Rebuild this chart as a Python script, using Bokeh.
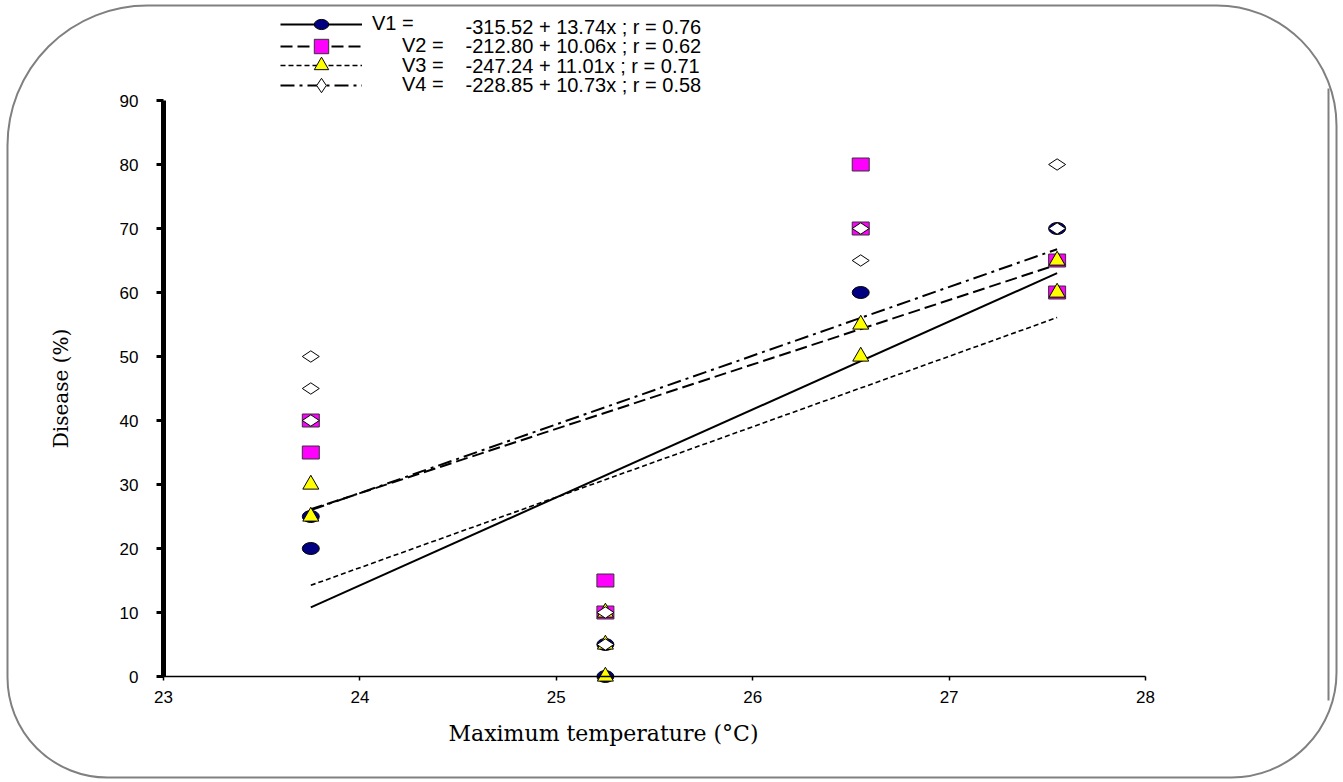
import numpy as np
from bokeh.plotting import figure
from bokeh.models import (Range1d, Legend, LegendItem, Label, BoxAnnotation,
                          FixedTicker)
from bokeh.embed import file_html
from bokeh.resources import INLINE

# ---------------- data ----------------
temps = [23.75, 25.25, 26.55, 27.55]

v1_x = [23.75, 23.75, 25.25, 25.25, 26.55, 27.55]
v1_y = [20, 25, 0, 5, 60, 70]
v2_x = [23.75, 23.75, 25.25, 25.25, 26.55, 26.55, 27.55, 27.55]
v2_y = [35, 40, 10, 15, 70, 80, 60, 65]
v3_x = [23.75, 23.75, 25.25, 25.25, 25.25, 26.55, 26.55, 27.55, 27.55]
v3_y = [25, 30, 0, 5, 10, 50, 55, 60, 65]
v4_x = [23.75, 23.75, 23.75, 25.25, 25.25, 26.55, 26.55, 27.55, 27.55]
v4_y = [40, 45, 50, 5, 10, 65, 70, 70, 80]

series = ["V1", "V2", "V3", "V4"]
intercepts = [-315.52, -212.80, -247.24, -228.85]
slopes = [13.74, 10.06, 11.01, 10.73]
r_values = [0.76, 0.62, 0.71, 0.58]

x_ticks = [23, 24, 25, 26, 27, 28]
y_ticks = [0, 10, 20, 30, 40, 50, 60, 70, 80, 90]

x_title = "Maximum temperature (°C)"
y_title = "Disease (%)"

# ---------------- layout (pixels) ----------------
W, H = 1343, 782
AX_LEFT, AX_RIGHT, AX_TOP, AX_BOTTOM = 163, 1145, 100, 676   # where 23/28 and 90/0 sit
xmin, xmax = x_ticks[0], x_ticks[-1]
ymin, ymax = y_ticks[0], y_ticks[-1]
kx = (AX_RIGHT - AX_LEFT) / (xmax - xmin)
ky = (AX_BOTTOM - AX_TOP) / (ymax - ymin)
x_range = Range1d(xmin - AX_LEFT / kx, xmax + (W - AX_RIGHT) / kx)
y_range = Range1d(ymin - (H - AX_BOTTOM) / ky, ymax + AX_TOP / ky)

SANS = "Liberation Sans"
SERIF = "DejaVu Serif"

p = figure(width=W, height=H, x_range=x_range, y_range=y_range, title=None,
           output_backend="svg", toolbar_location=None,
           min_border=0, background_fill_color="white",
           border_fill_color="white", outline_line_color=None)
p.grid.visible = False

# axes drawn at fixed data locations, limited to the data bounds
p.xaxis.fixed_location = ymin
p.yaxis.fixed_location = xmin
p.xaxis.bounds = (xmin, xmax)
p.yaxis.bounds = (ymin, ymax)
p.xaxis.ticker = FixedTicker(ticks=x_ticks)
p.yaxis.ticker = FixedTicker(ticks=y_ticks)
for ax in (p.xaxis[0], p.yaxis[0]):
    ax.minor_tick_line_color = None
    ax.major_tick_in = 0
    ax.major_label_text_font = SANS
    ax.major_label_text_font_size = "17px"
    ax.major_label_text_color = "black"
    ax.axis_label_text_font = SERIF
    ax.axis_label_text_font_style = "normal"
    ax.axis_label_text_color = "black"
    ax.axis_line_color = "black"
    ax.major_tick_line_color = "black"

p.xaxis.axis_line_width = 1.5
p.xaxis.major_tick_line_width = 1.5
p.xaxis.major_tick_out = 4
p.xaxis.major_label_standoff = 10

p.yaxis.axis_label = y_title
p.yaxis.axis_label_text_font_size = "20px"
p.yaxis.axis_line_width = 5
p.yaxis.major_tick_line_width = 3
p.yaxis.major_tick_out = 7
p.yaxis.major_label_standoff = 18
p.yaxis.axis_label_standoff = 44

# x-axis title (placed left of centre, as in the original)
p.add_layout(Label(x=603, y=H - 733, x_units="screen", y_units="screen",
                   text=x_title, text_font=SERIF, text_font_size="22px",
                   text_align="center", text_baseline="middle",
                   text_color="black"))

# regression lines
dashes = ["solid", "12 5", "5 3", "14 5 3 5"]
widths = [2, 2, 1.6, 2]
line_renderers = []
xs = np.array([min(temps), max(temps)])
for a, b, d, w in zip(intercepts, slopes, dashes, widths):
    lr = p.line(xs, a + b * xs, line_color="black", line_width=w, line_dash=d)
    line_renderers.append(lr)

# markers
m1 = p.ellipse(x=v1_x, y=v1_y, width=17, height=12, width_units="screen",
               height_units="screen", fill_color="#000080", line_color="black",
               line_width=1)
m2 = p.scatter(x=v2_x, y=v2_y, marker="square", size=12, fill_color="#FF00FF",
               line_color="#333333", line_width=1)
p.rect(x=v2_x, y=v2_y, width=17, height=13, width_units="screen",
       height_units="screen", fill_color="#FF00FF", line_color="#333333",
       line_width=1)
m3 = p.scatter(x=v3_x, y=v3_y, marker="triangle", size=16, fill_color="#FFFF00",
               line_color="black", line_width=1)
m4 = p.scatter(x=v4_x, y=v4_y, marker="diamond", size=17, angle=np.pi / 2,
               fill_color="white", line_color="black", line_width=1)
markers = [m1, m2, m3, m4]

# legend rows (one legend per row so labels can be indented like the original)
row_center = [H - 26, H - 45.5, H - 65, H - 84.5]   # px above the bottom edge
for i in range(4):
    gh = 18 if i == 0 else 36
    leg = Legend(items=[LegendItem(label=f"{series[i]} =",
                                   renderers=[line_renderers[i], markers[i]])],
                 location=(280, row_center[i] - gh / 2),
                 glyph_width=82, glyph_height=gh, label_height=18,
                 label_standoff=10 if i == 0 else 40,
                 padding=0, margin=0, spacing=0,
                 border_line_alpha=0, background_fill_alpha=0,
                 label_text_font=SANS, label_text_font_size="20px",
                 label_text_color="black")
    p.add_layout(leg)
    eq = f"{intercepts[i]:.2f} + {slopes[i]:.2f}x ; r = {r_values[i]:.2f}"
    p.add_layout(Label(x=465, y=row_center[i], x_units="screen", y_units="screen",
                       text=eq, text_font=SANS, text_font_size="20px",
                       text_baseline="middle", text_color="black"))

# rounded page frame
p.add_layout(BoxAnnotation(left=7, right=1336, top=H - 5, bottom=H - 777,
                           left_units="screen", right_units="screen",
                           top_units="screen", bottom_units="screen",
                           border_radius=(140, 120, 105, 100), fill_alpha=0,
                           line_color="#808080", line_alpha=1.0, line_width=2))
p.add_layout(BoxAnnotation(left=1328, right=1328, top=H - 88, bottom=H - 700,
                           left_units="screen", right_units="screen",
                           top_units="screen", bottom_units="screen",
                           fill_alpha=0, line_color="#808080", line_alpha=1.0,
                           line_width=2))

open("out.html", "w").write(file_html(p, INLINE))
